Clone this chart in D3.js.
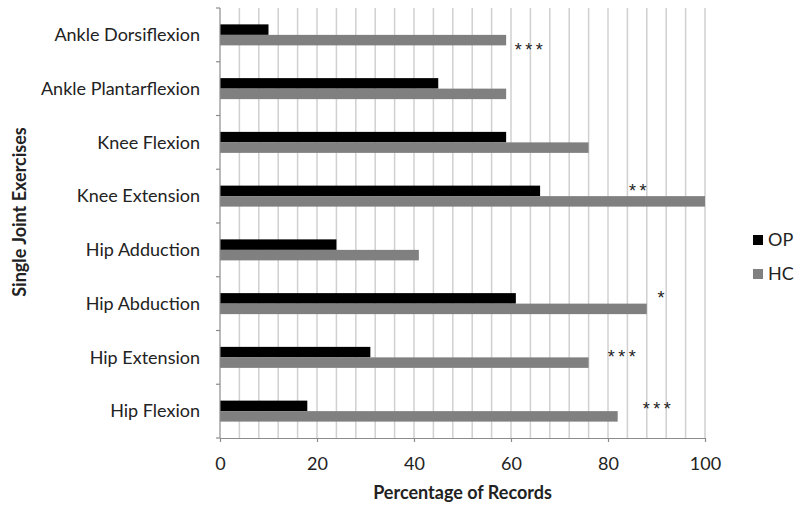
<!DOCTYPE html>
<html>
<head>
<meta charset="utf-8">
<script src="https://cdn.jsdelivr.net/npm/d3@7"></script>
<style>
  body { margin: 0; background: #fff; }
  text { font-family: Lato, "Open Sans", sans-serif; fill: #222; }
</style>
</head>
<body>
<div id="chart"></div>
<script>
// categories, top to bottom
var categories = ["Ankle Dorsiflexion", "Ankle Plantarflexion", "Knee Flexion", "Knee Extension",
                  "Hip Adduction", "Hip Abduction", "Hip Extension", "Hip Flexion"];
var seriesNames = ["OP", "HC"];
var opValues = [10, 45, 59, 66, 24, 61, 31, 18];
var hcValues = [59, 59, 76, 100, 41, 88, 76, 82];
var xTicks = [0, 20, 40, 60, 80, 100];
// significance marks: category, label, x position in % units, which bar row (0 = OP, 1 = HC)
var sigCats = ["Ankle Dorsiflexion", "Knee Extension", "Hip Abduction", "Hip Extension", "Hip Flexion"];
var sigLabels = ["***", "**", "*", "***", "***"];
var sigX = [64, 86.5, 91.3, 83.2, 90.4];
var sigRow = [1, 0, 0, 0.25, 0.15];

var w = 795, h = 505;
var margin = {left: 220, right: 90, top: 8, bottom: 67};

var svg = d3.select("#chart").append("svg")
            .attr("width", w)
            .attr("height", h);

var xScale = d3.scaleLinear()
               .domain([0, 100])
               .range([margin.left, w - margin.right]);

var yScale = d3.scaleBand()
               .domain(categories)
               .range([margin.top, h - margin.bottom]);

var barH = 10.5;
var color = d3.scaleOrdinal().domain(seriesNames).range(["#000000", "#808080"]);

// gridlines every 4 %
svg.append("g")
   .selectAll("line")
   .data(d3.range(4, 101, 4))
   .enter()
   .append("line")
   .attr("x1", function(d) { return xScale(d); })
   .attr("x2", function(d) { return xScale(d); })
   .attr("y1", margin.top)
   .attr("y2", h - margin.bottom)
   .attr("stroke", "#d0d0d0")
   .attr("stroke-width", 1.5);

// bars
var rows = categories.map(function(c, i) { return {cat: c, OP: opValues[i], HC: hcValues[i]}; });
var groups = svg.append("g")
                .selectAll("g")
                .data(rows)
                .enter()
                .append("g")
                .attr("transform", function(d) {
                    return "translate(0," + (yScale(d.cat) + yScale.bandwidth() / 2) + ")";
                });

groups.selectAll("rect")
      .data(function(d) { return seriesNames.map(function(s) { return {key: s, value: d[s]}; }); })
      .enter()
      .append("rect")
      .attr("x", xScale(0))
      .attr("y", function(d, i) { return i == 0 ? -barH : 0; })
      .attr("width", function(d) { return xScale(d.value) - xScale(0); })
      .attr("height", barH)
      .attr("fill", function(d) { return color(d.key); });

// x axis
var xAxis = svg.append("g")
               .attr("transform", "translate(0," + (h - margin.bottom) + ")")
               .call(d3.axisBottom(xScale).tickValues(xTicks).tickSize(4).tickSizeOuter(0));
xAxis.select(".domain").attr("stroke", "#8c8c8c").attr("stroke-width", 1.2);
xAxis.selectAll(".tick line").attr("stroke", "#8c8c8c").attr("stroke-width", 1.2);
xAxis.selectAll("text")
     .attr("dy", "0")
     .attr("y", 32)
     .attr("font-size", "18px")
     .style("font-family", "Lato, 'Open Sans', sans-serif")
     .attr("fill", "#222");

// y axis
var yAxis = svg.append("g")
               .attr("transform", "translate(" + margin.left + ",0)");
yAxis.append("line")
     .attr("y1", margin.top)
     .attr("y2", h - margin.bottom)
     .attr("stroke", "#8c8c8c")
     .attr("stroke-width", 1.2);
yAxis.selectAll("line.tk")
     .data(categories.concat(["end"]))
     .enter()
     .append("line")
     .attr("class", "tk")
     .attr("x1", -4)
     .attr("x2", 0)
     .attr("y1", function(d, i) { return margin.top + i * yScale.step(); })
     .attr("y2", function(d, i) { return margin.top + i * yScale.step(); })
     .attr("stroke", "#8c8c8c")
     .attr("stroke-width", 1.2);
yAxis.selectAll("text")
     .data(categories)
     .enter()
     .append("text")
     .attr("x", -20)
     .attr("y", function(d) { return yScale(d) + yScale.bandwidth() / 2; })
     .attr("dy", "0.35em")
     .attr("text-anchor", "end")
     .attr("font-size", "18px")
     .text(function(d) { return d; });

// axis titles
svg.append("text")
   .attr("x", xScale(50))
   .attr("y", 499)
   .attr("text-anchor", "middle")
   .attr("font-size", "18px")
   .attr("font-weight", "bold")
   .text("Percentage of Records");

svg.append("text")
   .attr("transform", "translate(26,212)rotate(-90)")
   .attr("text-anchor", "middle")
   .attr("font-size", "18px")
   .attr("font-weight", "bold")
   .text("Single Joint Exercises");

// significance asterisks
svg.append("g")
   .selectAll("text")
   .data(sigCats)
   .enter()
   .append("text")
   .attr("x", function(d, i) { return xScale(sigX[i]); })
   .attr("y", function(d, i) {
       return yScale(d) + yScale.bandwidth() / 2 + (sigRow[i] - 0.5) * barH * 2 + 11;
   })
   .attr("text-anchor", "middle")
   .attr("font-size", "18px")
   .attr("letter-spacing", "3.5px")
   .style("font-family", "'Liberation Sans', Arial, sans-serif")
   .attr("fill", "#333")
   .text(function(d, i) { return sigLabels[i]; });

// legend
var legend = svg.append("g")
                .selectAll("g")
                .data(seriesNames)
                .enter()
                .append("g")
                .attr("transform", function(d, i) { return "translate(753," + (235 + i * 34) + ")"; });
legend.append("rect")
      .attr("width", 10)
      .attr("height", 10)
      .attr("fill", function(d) { return color(d); });
legend.append("text")
      .attr("x", 15)
      .attr("y", 5)
      .attr("dy", "0.35em")
      .attr("font-size", "18px")
      .text(function(d) { return d; });
</script>
</body>
</html>
